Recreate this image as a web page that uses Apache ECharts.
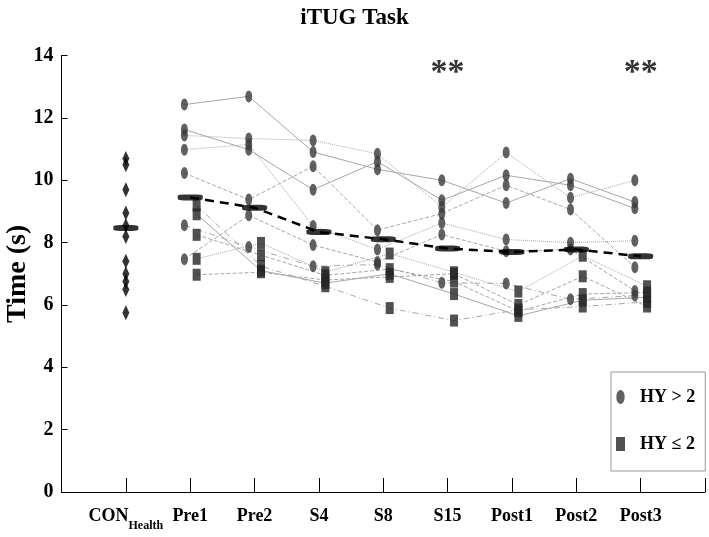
<!DOCTYPE html>
<html>
<head>
<meta charset="utf-8">
<script src="https://cdn.jsdelivr.net/npm/echarts@6/dist/echarts.min.js"></script>
<style>
html,body{margin:0;padding:0;background:#fff;}
#chart{width:709px;height:537px;}
</style>
</head>
<body>
<div id="chart"></div>
<script>
// ---------- data ----------
const categories = ['CON', 'Pre1', 'Pre2', 'S4', 'S8', 'S15', 'Post1', 'Post2', 'Post3'];
const conValues = [10.7, 10.5, 9.7, 8.95, 8.55, 8.2, 7.4, 7.0, 6.75, 6.5, 5.75];
const meanValues = [8.47, 9.45, 9.12, 8.34, 8.11, 7.81, 7.70, 7.78, 7.56];
// HY > 2 subjects: values at Pre1, Pre2, S4, S8, S15, Post1, Post2, Post3
const hyHigh1 = [12.43, 12.69, 10.91, 10.35, 10.0, 9.27, 10.05, 9.3];
const hyHigh2 = [11.63, 10.98, 9.70, 10.6, 9.36, 10.16, 9.84, 9.1];
const hyHigh3 = [11.44, 11.34, 11.28, 10.85, 9.14, 10.89, 9.44, 10.0];
const hyHigh4 = [10.98, 11.15, 8.53, 7.78, 8.63, 8.1, 8.0, 8.06];
const hyHigh5 = [10.23, 9.38, 10.45, 8.4, 8.93, 9.84, 9.06, 7.21];
const hyHigh6 = [8.56, 7.86, 7.24, 7.3, 6.71, 6.69, 6.18, 6.3];
const hyHigh7 = [7.47, 8.88, 7.92, 7.38, 8.26, 7.72, 7.78, 6.45];
// HY <= 2 subjects
const hyLow1 = [9.19, 7.25, 6.6, 5.9, 5.5, 5.85, 5.95, 6.1];
const hyLow2 = [8.91, 7.1, 6.7, 7.0, 6.35, 5.65, 6.15, 6.25];
const hyLow3 = [8.25, 7.6, 6.95, 7.15, 6.75, 5.8, 6.35, 6.4];
const hyLow4 = [7.48, 7.99, 7.05, 7.65, 7.05, 6.43, 7.58, 6.6];
const hyLow5 = [6.97, 7.05, 6.8, 6.9, 7.0, 6.0, 6.92, 5.95];
const sigLabels = ['', '', '', '', '', '**', '', '', '**'];
const sigLevel = 13.45;

const hyHighSubjects = [hyHigh1, hyHigh2, hyHigh3, hyHigh4, hyHigh5, hyHigh6, hyHigh7];
const hyLowSubjects = [hyLow1, hyLow2, hyLow3, hyLow4, hyLow5];

// ---------- styles ----------
const serif = '"Liberation Serif", "Times New Roman", serif';
const ellipse = 'path://M30,0 A30,50 0 1,1 30,100 A30,50 0 1,1 30,0 Z';
const highTypes = ['solid', 'solid', 'dotted', 'dotted', 'dashed', [6, 3, 1, 3], 'dashed'];
const lowTypes = [[6, 3, 1, 3], 'solid', 'dashed', 'dotted', 'dashed'];
const highOff = -0.09, lowOff = 0.1;

const series = [];
hyHighSubjects.forEach((s, i) => {
  series.push({
    type: 'line', silent: true, symbol: 'none', z: 1,
    data: s.map((v, j) => [j + 2 + highOff, v]),
    lineStyle: { color: '#a8a8a8', width: 1, type: highTypes[i] }
  });
});
hyLowSubjects.forEach((s, i) => {
  series.push({
    type: 'line', silent: true, symbol: 'none', z: 1,
    data: s.map((v, j) => [j + 2 + lowOff, v]),
    lineStyle: { color: '#a8a8a8', width: 1, type: lowTypes[i] }
  });
});
series.push({
  name: 'HY > 2', type: 'scatter', z: 3, symbol: ellipse, symbolSize: [7, 12],
  itemStyle: { color: '#3a3a3a' },
  data: hyHighSubjects.flatMap(s => s.map((v, j) => [j + 2 + highOff, v]))
});
series.push({
  name: 'HY ≤ 2', type: 'scatter', z: 3, symbol: 'rect', symbolSize: [8, 12],
  itemStyle: { color: '#262626' },
  data: hyLowSubjects.flatMap(s => s.map((v, j) => [j + 2 + lowOff, v]))
});
series.push({
  type: 'scatter', z: 3, symbol: 'diamond', symbolSize: [7, 15],
  itemStyle: { color: '#000' },
  data: conValues.map(v => [1, v])
});
series.push({
  type: 'line', silent: true, symbol: 'none', z: 4,
  data: meanValues.slice(1).map((v, j) => [j + 2, v]),
  lineStyle: { color: '#000', width: 2.5, type: [9, 6] }
});
series.push({
  type: 'scatter', z: 5, symbol: 'roundRect', symbolSize: [25, 6],
  itemStyle: { color: '#000' },
  data: meanValues.map((v, j) => [j + 1, v])
});
series.push({
  type: 'scatter', z: 5, symbolSize: 0, silent: true,
  data: sigLabels.map((t, j) => [j + 1, sigLevel, t]).filter(d => d[2] !== ''),
  label: { show: true, position: 'inside', formatter: p => p.data[2],
    fontFamily: serif, fontWeight: 'bold', fontSize: 34, color: '#000' }
});

const option = {
  animation: false,
  backgroundColor: '#fff',
  title: {
    text: 'iTUG Task', left: 'center', top: 2,
    textStyle: { fontFamily: serif, fontWeight: 'bold', fontSize: 23, color: '#000' }
  },
  legend: {
    orient: 'vertical', left: 611, top: 372,
    padding: [16, 10, 18, 5], itemGap: 29, itemWidth: 9, itemHeight: 14,
    borderColor: '#999', borderWidth: 1,
    textStyle: { fontFamily: serif, fontWeight: 'bold', fontSize: 18, color: '#000', padding: [0, 0, 0, 10] },
    data: [{ name: 'HY > 2', icon: ellipse }, { name: 'HY ≤ 2', icon: 'rect' }]
  },
  grid: { left: 61.5, right: 4, top: 55.6, bottom: 45, outerBoundsMode: 'none', containLabel: false },
  xAxis: {
    type: 'value', min: 0, max: 10, interval: 1,
    splitLine: { show: false },
    axisLine: { lineStyle: { color: '#000', width: 1 } },
    axisTick: { inside: true, length: 14, lineStyle: { color: '#000' }, show: true },
    axisLabel: {
      margin: 15, color: '#000',
      formatter: v => {
        if (v < 1 || v > 9) return '';
        const c = categories[v - 1];
        return c === 'CON' ? '{a|CON}{b|Health}' : '{a|' + c + '}';
      },
      rich: {
        a: { fontFamily: serif, fontWeight: 'bold', fontSize: 18, color: '#000', verticalAlign: 'top' },
        b: { fontFamily: serif, fontWeight: 'bold', fontSize: 12, color: '#000', verticalAlign: 'top', padding: [13, 0, 0, 0] }
      }
    }
  },
  yAxis: {
    type: 'value', min: 0, max: 14, interval: 2,
    name: 'Time (s)', nameLocation: 'middle', nameGap: 30, nameMoveOverlap: false,
    nameTextStyle: { fontFamily: serif, fontWeight: 'bold', fontSize: 28, color: '#000' },
    splitLine: { show: false },
    axisLine: { show: true, lineStyle: { color: '#000', width: 1 } },
    axisTick: { show: true, inside: true, length: 6, lineStyle: { color: '#000' } },
    axisLabel: { margin: 8, fontFamily: serif, fontWeight: 'bold', fontSize: 20, color: '#000' }
  },
  series: series
};

const chart = echarts.init(document.getElementById('chart'), null, { renderer: 'canvas' });
chart.setOption(option);
</script>
</body>
</html>
